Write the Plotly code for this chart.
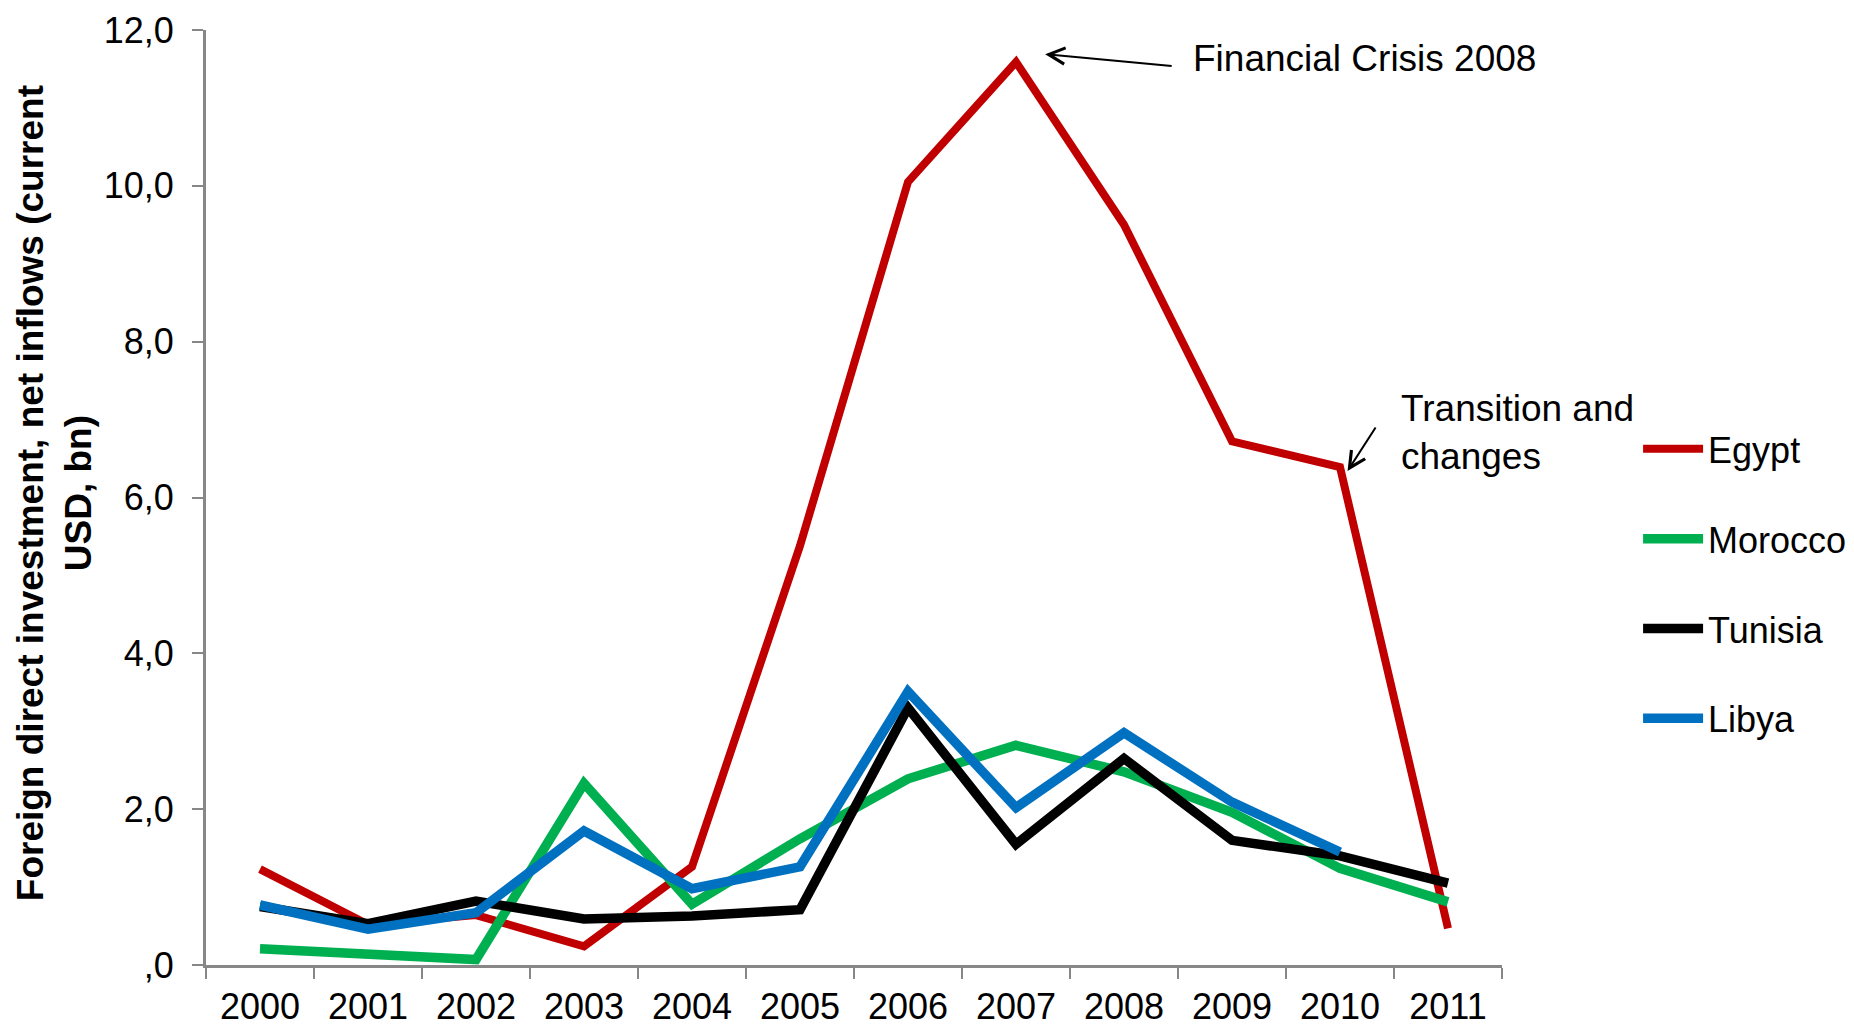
import plotly.graph_objects as go

years = ["2000", "2001", "2002", "2003", "2004", "2005", "2006", "2007", "2008", "2009", "2010", "2011"]
egypt = [1.23, 0.52, 0.64, 0.24, 1.26, 5.38, 10.05, 11.59, 9.50, 6.72, 6.39, 0.47]
morocco = [0.21, 0.14, 0.07, 2.33, 0.78, 1.62, 2.39, 2.82, 2.48, 1.96, 1.24, 0.81]
tunisia = [0.75, 0.53, 0.82, 0.59, 0.63, 0.71, 3.30, 1.55, 2.65, 1.60, 1.40, 1.05]
libya = [0.77, 0.46, 0.67, 1.72, 0.98, 1.26, 3.51, 2.02, 2.98, 2.09, 1.45, None]

y_tickvals = [0, 2, 4, 6, 8, 10, 12]
y_ticktext = [",0", "2,0", "4,0", "6,0", "8,0", "10,0", "12,0"]

series = [
    ("Egypt", egypt, "#C00000", 8),
    ("Morocco", morocco, "#00B050", 9.5),
    ("Tunisia", tunisia, "#000000", 9.5),
    ("Libya", libya, "#0070C0", 9.5),
]

FONT = "Liberation Sans, Arial, sans-serif"

fig = go.Figure()
for name, vals, color, w in series:
    fig.add_trace(go.Scatter(
        x=years, y=vals, name=name, mode="lines",
        line=dict(color=color, width=w),
        legendgroup=name, connectgaps=False,
    ))

fig.update_layout(
    width=1854, height=1024,
    margin=dict(l=206, r=352, t=30, b=59, autoexpand=False),
    paper_bgcolor="white", plot_bgcolor="white",
    font=dict(family=FONT, size=36, color="black"),
    showlegend=True,
    legend=dict(
        x=1.105, xanchor="left", y=0.584, yanchor="top",
        font=dict(size=36, family=FONT),
        tracegroupgap=40, itemwidth=60,
        bgcolor="rgba(0,0,0,0)",
    ),
    xaxis=dict(
        type="category", tickson="boundaries",
        range=[-0.5, 11.5], autorange=False,
        showgrid=False, zeroline=False,
        showline=True, linecolor="#878787", linewidth=3,
        ticks="outside", ticklen=11, tickwidth=2, tickcolor="#878787",
        tickfont=dict(size=36, family=FONT),
        ticklabelstandoff=8,
        automargin=False,
    ),
    yaxis=dict(
        range=[0, 12], autorange=False,
        tickmode="array", tickvals=y_tickvals, ticktext=y_ticktext,
        showgrid=False, zeroline=False,
        showline=True, linecolor="#878787", linewidth=3,
        ticks="outside", ticklen=11, tickwidth=2, tickcolor="#878787",
        tickfont=dict(size=36, family=FONT),
        ticklabelstandoff=11,
        automargin=False,
    ),
)

# Y-axis title
fig.add_annotation(
    xref="paper", yref="paper", x=-0.117, y=0.505,
    text="<b>Foreign direct investment, net inflows (current<br>USD, bn)</b>",
    textangle=-90, showarrow=False, xanchor="center", yanchor="middle",
    font=dict(size=37, family=FONT, color="black"),
)

# Financial crisis arrow + text
fig.add_annotation(
    x=7.27, y=11.69, xref="x", yref="y",
    text="", showarrow=True, arrowhead=5, arrowsize=1.6, arrowwidth=2,
    arrowcolor="black", ax=128, ay=12, standoff=0, startstandoff=0,
)
fig.add_annotation(
    x=8.62, y=11.64, xref="x", yref="y",
    text="Financial Crisis 2008", showarrow=False,
    xanchor="left", yanchor="middle",
    font=dict(size=37, family=FONT, color="black"),
)

# Transition arrow + text
fig.add_annotation(
    x=10.07, y=6.34, xref="x", yref="y",
    text="", showarrow=True, arrowhead=5, arrowsize=1.6, arrowwidth=2,
    arrowcolor="black", ax=29, ay=-45, standoff=0, startstandoff=0,
)
fig.add_annotation(
    x=10.55, y=6.84, xref="x", yref="y",
    text="Transition and<br>changes", showarrow=False, align="left",
    xanchor="left", yanchor="middle",
    font=dict(size=37, family=FONT, color="black"),
)

fig.write_html("out.html")
